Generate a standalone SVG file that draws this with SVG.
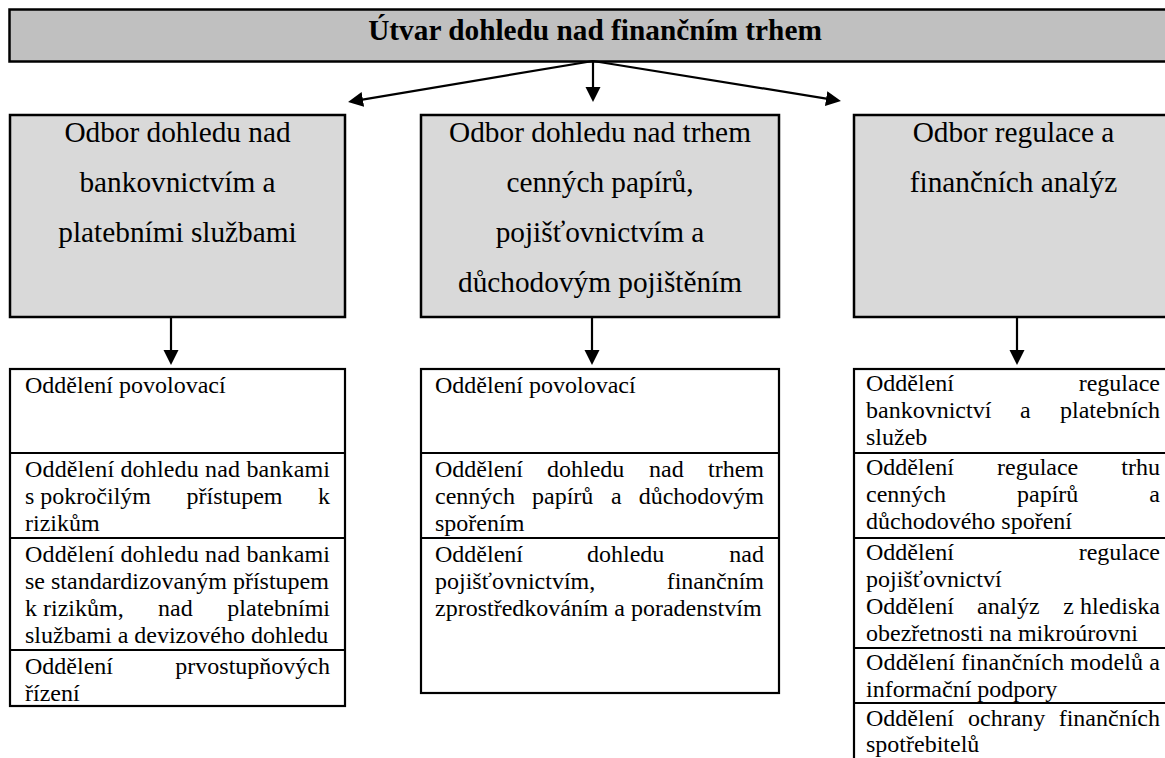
<svg xmlns="http://www.w3.org/2000/svg" width="1165" height="758" viewBox="0 0 1165 758">
<style>
text{font-family:"Liberation Serif","Times New Roman",serif;fill:#000}
.title{font-size:29.3px;font-weight:bold;text-anchor:middle}
.hd{font-size:29.3px;text-anchor:middle}
.li{font-size:24px}
.e{text-anchor:end}
.banner{fill:#c0c0c0;stroke:#000;stroke-width:2.5}
.head{fill:#d9d9d9;stroke:#000;stroke-width:2.5}
.list{fill:#fff;stroke:#000;stroke-width:2.2}
.div{stroke:#000;stroke-width:2}
.conn{stroke:#000;stroke-width:2.2;fill:none;marker-end:url(#ah)}
</style>
<defs>
<marker id="ah" markerUnits="userSpaceOnUse" markerWidth="16" markerHeight="16" refX="11" refY="7.5" orient="auto">
<path d="M0,0 L15,7.5 L0,15 z" fill="#000"/>
</marker>
</defs>
<g id="banner">
<rect class="banner" x="9.5" y="9.5" width="1180" height="52"/>
<text class="title" x="595" y="40">Útvar dohledu nad finančním trhem</text>
</g>
<g id="connectors">
<line class="conn" x1="593" y1="61" x2="352" y2="101.3"/>
<line class="conn" x1="593" y1="61" x2="593" y2="98"/>
<line class="conn" x1="593" y1="61" x2="837" y2="100.3"/>
<line class="conn" x1="171" y1="317" x2="171" y2="361"/>
<line class="conn" x1="592" y1="317" x2="592" y2="361"/>
<line class="conn" x1="1017" y1="317" x2="1017" y2="361"/>
</g>
<g id="odbor-bank">
<rect class="head" x="10" y="115" width="335" height="202"/>
<text class="hd" x="177.5" y="142">Odbor dohledu nad</text>
<text class="hd" x="177.5" y="192">bankovnictvím a</text>
<text class="hd" x="177.5" y="242">platebními službami</text>
</g>
<g id="odbor-trh">
<rect class="head" x="421" y="115" width="358" height="202"/>
<text class="hd" x="600" y="142">Odbor dohledu nad trhem</text>
<text class="hd" x="600" y="192">cenných papírů,</text>
<text class="hd" x="600" y="242">pojišťovnictvím a</text>
<text class="hd" x="600" y="292">důchodovým pojištěním</text>
</g>
<g id="odbor-regulace">
<rect class="head" x="854" y="115" width="320" height="202"/>
<text class="hd" x="1013.5" y="142">Odbor regulace a</text>
<text class="hd" x="1013.5" y="192">finančních analýz</text>
</g>
<g id="list-bank">
<rect class="list" x="10" y="369" width="335" height="337"/>
<line class="div" x1="10" y1="453" x2="345" y2="453"/>
<line class="div" x1="10" y1="538" x2="345" y2="538"/>
<line class="div" x1="10" y1="650" x2="345" y2="650"/>
<text class="li" x="25" y="393">Oddělení povolovací</text>
<text class="li" x="25" y="477" textLength="305" lengthAdjust="spacing">Oddělení dohledu nad bankami</text>
<text class="li" y="504"><tspan x="25">s pokročilým</tspan><tspan x="186.5">přístupem</tspan><tspan x="330" text-anchor="end">k</tspan></text>
<text class="li" x="25" y="531">rizikům</text>
<text class="li" x="25" y="562" textLength="305" lengthAdjust="spacing">Oddělení dohledu nad bankami</text>
<text class="li" x="25" y="589">se standardizovaným přístupem</text>
<text class="li" y="616"><tspan x="25">k rizikům,</tspan><tspan x="158">nad</tspan><tspan x="330" text-anchor="end">platebními</tspan></text>
<text class="li" x="25" y="643">službami a devizového dohledu</text>
<text class="li" y="674"><tspan x="25">Oddělení</tspan><tspan x="330" text-anchor="end">prvostupňových</tspan></text>
<text class="li" x="25" y="701">řízení</text>
</g>
<g id="list-trh">
<rect class="list" x="421" y="369" width="358" height="324"/>
<line class="div" x1="421" y1="453" x2="779" y2="453"/>
<line class="div" x1="421" y1="538" x2="779" y2="538"/>
<text class="li" x="435" y="393">Oddělení povolovací</text>
<text class="li" y="477"><tspan x="435">Oddělení</tspan><tspan x="547">dohledu</tspan><tspan x="649">nad</tspan><tspan x="764" text-anchor="end">trhem</tspan></text>
<text class="li" y="504"><tspan x="435">cenných</tspan><tspan x="532">papírů</tspan><tspan x="611">a</tspan><tspan x="764" text-anchor="end">důchodovým</tspan></text>
<text class="li" x="435" y="531">spořením</text>
<text class="li" y="562"><tspan x="435">Oddělení</tspan><tspan x="587">dohledu</tspan><tspan x="764" text-anchor="end">nad</tspan></text>
<text class="li" y="589"><tspan x="435">pojišťovnictvím,</tspan><tspan x="764" text-anchor="end">finančním</tspan></text>
<text class="li" x="435" y="616">zprostředkováním a poradenstvím</text>
</g>
<g id="list-regulace">
<rect class="list" x="854" y="369" width="320" height="400"/>
<line class="div" x1="854" y1="453" x2="1174" y2="453"/>
<line class="div" x1="854" y1="538" x2="1174" y2="538"/>
<line class="div" x1="854" y1="648" x2="1174" y2="648"/>
<line class="div" x1="854" y1="703" x2="1174" y2="703"/>
<text class="li" y="391"><tspan x="866">Oddělení</tspan><tspan x="1160" text-anchor="end">regulace</tspan></text>
<text class="li" y="418"><tspan x="866">bankovnictví</tspan><tspan x="1020">a</tspan><tspan x="1160" text-anchor="end">platebních</tspan></text>
<text class="li" x="866" y="445">služeb</text>
<text class="li" y="475"><tspan x="866">Oddělení</tspan><tspan x="997">regulace</tspan><tspan x="1160" text-anchor="end">trhu</tspan></text>
<text class="li" y="502"><tspan x="866">cenných</tspan><tspan x="1017">papírů</tspan><tspan x="1160" text-anchor="end">a</tspan></text>
<text class="li" x="866" y="529">důchodového spoření</text>
<text class="li" y="560"><tspan x="866">Oddělení</tspan><tspan x="1160" text-anchor="end">regulace</tspan></text>
<text class="li" x="866" y="587">pojišťovnictví</text>
<text class="li" y="614"><tspan x="866">Oddělení</tspan><tspan x="977">analýz</tspan><tspan x="1160" text-anchor="end">z hlediska</tspan></text>
<text class="li" x="866" y="641">obezřetnosti na mikroúrovni</text>
<text class="li" x="866" y="670" textLength="294" lengthAdjust="spacing">Oddělení finančních modelů a</text>
<text class="li" x="866" y="697">informační podpory</text>
<text class="li" y="726"><tspan x="866">Oddělení</tspan><tspan x="968">ochrany</tspan><tspan x="1160" text-anchor="end">finančních</tspan></text>
<text class="li" x="866" y="752">spotřebitelů</text>
</g>
</svg>
